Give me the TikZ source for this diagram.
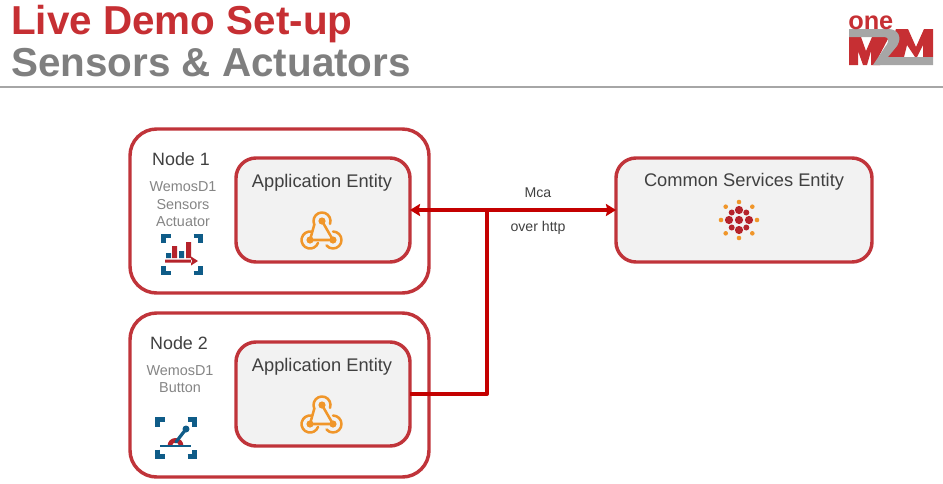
\documentclass[tikz,border=0pt]{standalone}
\usepackage{fontspec}
\usetikzlibrary{arrows.meta}
\setmainfont{Liberation Sans}
\definecolor{boxred}{HTML}{C0343A}
\definecolor{linkred}{HTML}{C40000}
\definecolor{titlered}{HTML}{C62F33}
\definecolor{titlegray}{HTML}{7F7F7F}
\definecolor{rulegray}{HTML}{A6A6A6}
\definecolor{boxfill}{HTML}{F2F2F2}
\definecolor{textdark}{HTML}{404040}
\definecolor{textgray}{HTML}{858585}
\definecolor{iconblue}{HTML}{0F5C88}
\definecolor{iconred}{HTML}{B5232B}
\definecolor{iconorange}{HTML}{F0962A}
\tikzset{
	outerbox/.style={draw=boxred, line width=2.6pt, fill=white, rounded corners=20pt, minimum width=224.25pt, minimum height=123pt, inner sep=0pt},
	innerbox/.style={draw=boxred, line width=2.6pt, fill=boxfill, rounded corners=15pt, minimum width=130.5pt, minimum height=78pt, inner sep=0pt, outer sep=0pt},
	titlelabel/.style={anchor=base west, inner sep=0pt, font=\fontsize{30.3}{32}\selectfont\bfseries},
	nodelabel/.style={inner sep=0pt, text=textdark, font=\fontsize{13.4}{15}\selectfont},
	entitylabel/.style={inner sep=0pt, text=textdark, font=\fontsize{13.7}{15}\selectfont},
	boardlabel/.style={inner sep=0pt, text=textgray, font=\fontsize{10.8}{12}\selectfont},
	linklabel/.style={inner sep=0pt, text=textdark, font=\fontsize{10.6}{12}\selectfont},
	link/.style={draw=linkred, line width=3pt},
	bracket/.style={draw=iconblue, line width=3.4pt, line cap=butt, line join=miter},
	hook/.style={draw=iconorange, line width=1.9pt, line cap=round},
	pics/webhook/.style={code={
		\draw[hook] (0,-10)--(11,9)--(-12,9);
		\fill[iconorange] (0,-10) circle (3.6) (-12,9) circle (3.6) (11,9) circle (3.6);
		\draw[hook] (8,-7.1) arc[start angle=20, end angle=-205, radius=8.5]--(-12,9);
		\draw[hook] (-10.2,0.7) arc[start angle=-78, end angle=-340, radius=8.5];
		\draw[hook] (11,0.5) arc[start angle=-90, end angle=140, radius=8.5];
	}},
	pics/frame/.style={code={
		\draw[bracket] (-18.7,-11.5)--(-18.7,-18.7)--(-11.5,-18.7);
		\draw[bracket] (11.5,-18.7)--(18.7,-18.7)--(18.7,-11.5);
		\draw[bracket] (-18.7,11.5)--(-18.7,18.7)--(-11.5,18.7);
		\draw[bracket] (11.5,18.7)--(18.7,18.7)--(18.7,11.5);
	}},
}
\begin{document}
\begin{tikzpicture}[x=0.75pt, y=-0.75pt, line join=round, >={Stealth[length=7.5pt, width=9pt, inset=1pt]}]
	\useasboundingbox (0,0) rectangle (943,483);
	% heading
	\node[titlelabel, text=titlered] (livedemo) at (11,34) {Live Demo Set-up};
	\node[titlelabel, text=titlegray] (sensorsact) at (11,76) {Sensors \& Actuators};
	\draw[rulegray, line width=2.2pt] (0,87)--(943,87);
	% logo
	\fill[titlered] (849,37)--(861,37)--(866,51)--(872,37)--(889,37)--(878,58)--(880,65)--(871,65)--(871,51)--(867,65)--(863,65)--(858,51)--(858,65)--(849,65)--cycle;
	\fill[titlered] (896,29)--(908,29)--(916,47)--(924,29)--(933,29)--(933,57)--(923,57)--(923,45)--(917,57)--(915,57)--(907,45)--(904,57)--(886,57)--cycle;
	\fill[rulegray] (849,29)--(888,29) .. controls (899,29) and (902,38) .. (897,46)--(888,57)--(933,57)--(933,65)--(873,65)--(885,47) .. controls (890,41) and (889,37) .. (884,37)--(849,37)--cycle;
	\node[inner sep=0pt, text=titlered, anchor=base west, font=\fontsize{19}{21}\selectfont\bfseries] (oneword) at (848,29) {one};
	% node 1
	\node[outerbox] (nodeone) at (279.5,211) {};
	\node[innerbox] (aeone) at (323,210) {};
	\node[nodelabel] (nodeonelabel) at (181,159) {Node 1};
	\node[boardlabel] (wemosone) at (183,187) {WemosD1};
	\node[boardlabel] (sensorslabel) at (183,205) {Sensors};
	\node[boardlabel] (actuatorlabel) at (183,222) {Actuator};
	\node[entitylabel] (aeonelabel) at (322,183) {Application Entity};
	\pic at (322,231) {webhook};
	\pic at (182,254.5) {frame};
	\fill[iconblue] (166,253) rectangle (171,258) (179,251) rectangle (184,258);
	\fill[iconred] (172,246) rectangle (177,258) (186,242) rectangle (191,258);
	\fill[iconred] (165,259.5) rectangle (192,262.5) (191,256.5)--(198,261)--(191,265.5)--cycle;
	% node 2
	\node[outerbox] (nodetwo) at (279.5,395) {};
	\node[innerbox] (aetwo) at (323,394) {};
	\node[nodelabel] (nodetwolabel) at (179,343) {Node 2};
	\node[boardlabel] (wemostwo) at (180,371) {WemosD1};
	\node[boardlabel] (buttonlabel) at (180,388) {Button};
	\node[entitylabel] (aetwolabel) at (322,367) {Application Entity};
	\pic at (322,415) {webhook};
	\pic at (176,438) {frame};
	\fill[iconred] (167.5,446) arc[start angle=180, end angle=360, radius=8]--(179,446) arc[start angle=360, end angle=180, radius=3.5]--cycle;
	\draw[iconblue, line width=2.4pt, line cap=round] (176,442)--(186,429);
	\fill[iconblue] (186,429) circle (3.5);
	\draw[iconblue, line width=1.8pt] (160,446)--(191,446);
	% cse
	\node[innerbox, minimum width=192pt] (cse) at (744,210) {};
	\node[entitylabel] (cselabel) at (744,182) {Common Services Entity};
	\fill[iconred] (739,220) circle (4.1) (729,220) circle (4.1) (749,220) circle (4.1) (739,210) circle (4.1) (739,230) circle (4.1);
	\foreach \i/\j in {-7.3/-7.5, 7.3/-7.5, -7.3/7.5, 7.3/7.5}
		\fill[iconred] (739+\i,220+\j) circle (3);
	\foreach \i/\j in {-18/0, 18/0, 0/-18, 0/18, -13.3/-13.3, 13.3/-13.3, -13.3/13.3, 13.3/13.3}
		\fill[iconorange] (739+\i,220+\j) circle (2.3);
	% links
	\coordinate (junction) at (487,210);
	\draw[link, <->] (aeone.east)--(cse.west);
	\draw[link] (aetwo.east)-|(junction);
	\node[linklabel] (mcalabel) at (538,193) {Mca};
	\node[linklabel] (httplabel) at (538,228) {over http};
\end{tikzpicture}
\end{document}
